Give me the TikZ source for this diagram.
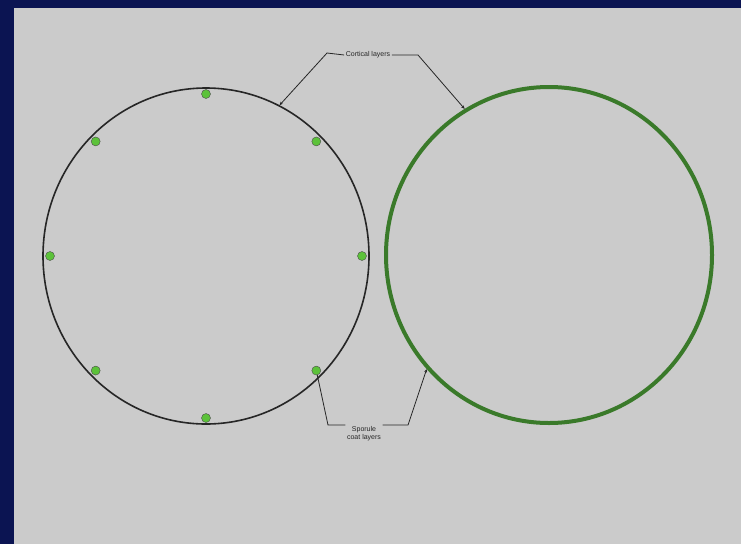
\documentclass[tikz,border=0pt]{standalone}
\usepackage{fontspec}
\setsansfont{Liberation Sans}
\usetikzlibrary{arrows.meta, positioning, shapes.geometric, calc}
\definecolor{bggray}{HTML}{CBCBCB}
\definecolor{navy}{HTML}{0B1452}
\definecolor{wallgreen}{HTML}{3A7A2A}
\definecolor{dotgreen}{HTML}{5CC23A}

\begin{document}
\begin{tikzpicture}[
    x=1pt, y=-1pt,
    >={Stealth[length=3.5pt, width=3pt]},
    wall/.style={draw, ellipse, minimum width=326pt, minimum height=336pt},
    pore/.style={draw=black!70, fill=dotgreen, circle, inner sep=0pt,
                 minimum size=9pt},
    leader/.style={draw, black!85, line width=0.8pt},
    lbl/.style={font=\scriptsize\sffamily, text=black!85, inner sep=1.5pt}
  ]
  % background and frame
  \useasboundingbox (0,0) rectangle (741,544);
  \fill[bggray] (0,0) rectangle (741,544);
  \fill[navy] (0,0) rectangle (14,544);
  \fill[navy] (0,0) rectangle (741,8);

  % the two walls
  \node[wall, line width=1.6pt, draw=black!85] (inner) at (206,256) {};
  \node[wall, line width=4pt, draw=wallgreen] (outer) at (549,255) {};

  % pores on the left wall
  \foreach \a [count=\i from 0] in {90,45,0,-45,-90,-135,180,135}
    \node[pore] (d\i) at ($(206,256)+(\a:156pt and 162pt)$) {};

  % labels
  \node[lbl] (top) at (368,55) {Cortical layers};
  \node[lbl, align=center] (bot) at (364,434) {Sporule\\coat layers};

  \coordinate (tl) at (327,53);
  \coordinate (tr) at (418,55);
  \coordinate (bl) at (328,425);
  \coordinate (br) at (408,425);

  \draw[leader, ->] (top.west) -- (tl) -- (inner.64);
  \draw[leader, ->] (top.east) -- (tr) -- (outer.120);
  \draw[leader] (d3) -- (bl) -- (bl -| bot.west);
  \draw[leader, ->] (bot.east |- br) -- (br) -- (outer.223);
\end{tikzpicture}
\end{document}
